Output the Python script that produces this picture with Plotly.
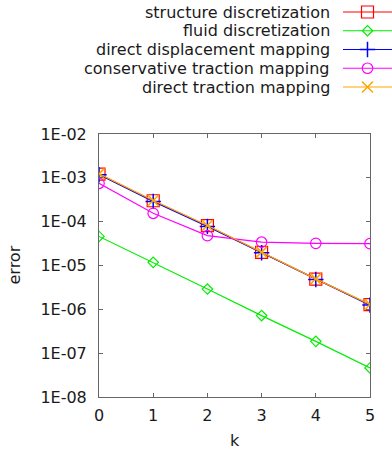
import plotly.graph_objects as go

# ---- data ----
k = [0, 1, 2, 3, 4, 5]
series_names = [
    "structure discretization",
    "fluid discretization",
    "direct displacement mapping",
    "conservative traction mapping",
    "direct traction mapping",
]
structure = [1.22e-3, 3.0e-4, 8.1e-5, 2.0e-5, 4.9e-6, 1.28e-6]
fluid = [4.6e-5, 1.18e-5, 2.9e-6, 7.2e-7, 1.86e-7, 4.6e-8]
direct_disp = [1.18e-3, 2.9e-4, 7.8e-5, 1.95e-5, 4.8e-6, 1.25e-6]
conservative = [7.5e-4, 1.55e-4, 4.8e-5, 3.4e-5, 3.2e-5, 3.15e-5]
direct_trac = [1.23e-3, 3.05e-4, 8.2e-5, 2.02e-5, 4.95e-6, 1.29e-6]
ytick_vals = [1e-8, 1e-7, 1e-6, 1e-5, 1e-4, 1e-3, 1e-2]
ytick_text = ["1E-08", "1E-07", "1E-06", "1E-05", "1E-04", "1E-03", "1E-02"]
xtick_vals = [0, 1, 2, 3, 4, 5]
x_title = "k"
y_title = "error"

# ---- styles ----
values = [structure, fluid, direct_disp, conservative, direct_trac]
colors = ["#ff0000", "#00ee00", "#0000ff", "#ff00ff", "#ffa500"]
symbols = ["square-open", "diamond-open", "cross-thin-open", "circle-open", "x-thin-open"]
msizes = [12, 8, 11, 10.5, 11]
mlw = [1.2, 1.2, 1.5, 1.2, 1.5]
LW = 1.2

FONT = "DejaVu Sans"
TXT = "#1a1a1a"
AX = "#666666"

W, H = 392, 454
left_px, right_px, top_px, bottom_px = 99, 370, 134, 397
L, R, T, B = left_px, 0, 0, H - bottom_px
plot_w = W - L - R
plot_h = H - T - B

fig = go.Figure()

for name, vals, c, s, ms, mw in zip(series_names, values, colors, symbols, msizes, mlw):
    fig.add_trace(go.Scatter(
        x=k, y=vals, mode="lines+markers", name=name,
        line=dict(color=c, width=LW),
        marker=dict(symbol=s, size=ms, color=c, line=dict(color=c, width=mw)),
        showlegend=False, xaxis="x", yaxis="y",
    ))

# manual legend (text on left, sample on right) in its own small axes
for i, (name, c, s, ms, mw) in enumerate(zip(series_names, colors, symbols, msizes, mlw)):
    fig.add_trace(go.Scatter(
        x=[0, 1], y=[i, i], mode="lines", line=dict(color=c, width=LW),
        showlegend=False, hoverinfo="skip", xaxis="x2", yaxis="y2",
    ))
    fig.add_trace(go.Scatter(
        x=[0.5], y=[i], mode="markers",
        marker=dict(symbol=s, size=ms, color=c, line=dict(color=c, width=mw)),
        showlegend=False, hoverinfo="skip", xaxis="x2", yaxis="y2",
    ))
    fig.add_annotation(
        x=0, y=i, xref="x2", yref="y2", text=name, showarrow=False,
        xanchor="right", yanchor="middle", xshift=-11,
        font=dict(family=FONT, size=16, color=TXT),
    )

# axis titles
fig.add_annotation(
    x=(right_px - L) / 2 / plot_w, y=-(441 - bottom_px) / plot_h,
    xref="paper", yref="paper", text=x_title, showarrow=False,
    xanchor="center", yanchor="middle",
    font=dict(family=FONT, size=16, color=TXT),
)
fig.add_annotation(
    x=-(L - 14) / plot_w, y=(bottom_px - (top_px + bottom_px) / 2) / plot_h,
    xref="paper", yref="paper", text=y_title, showarrow=False, textangle=-90,
    xanchor="center", yanchor="middle",
    font=dict(family=FONT, size=16, color=TXT),
)

leg_x0 = 343
row_gap = 18.75
leg_top = 12 - row_gap / 2
leg_bot = leg_top + row_gap * len(series_names)

axis_common = dict(
    showline=True, linecolor=AX, linewidth=1, mirror="ticks",
    ticks="inside", tickcolor=AX, ticklen=4, showgrid=False, zeroline=False,
    tickfont=dict(family=FONT, size=16, color=TXT), automargin=False,
)

fig.update_layout(
    width=W, height=H,
    margin=dict(l=L, r=R, t=T, b=B, pad=0, autoexpand=False),
    plot_bgcolor="white", paper_bgcolor="white",
    xaxis=dict(
        domain=[0, (right_px - L) / plot_w], range=[0, 5],
        tickvals=xtick_vals, ticklabelstandoff=4,
        anchor="y",
        **axis_common,
    ),
    yaxis=dict(
        domain=[0, (bottom_px - top_px) / plot_h], type="log", range=[-8, -2],
        tickvals=ytick_vals, ticktext=ytick_text, ticklabelstandoff=8,
        anchor="x",
        **axis_common,
    ),
    xaxis2=dict(
        domain=[(leg_x0 - L) / plot_w, 1], range=[0, 1], visible=False,
        anchor="y2", fixedrange=True,
    ),
    yaxis2=dict(
        domain=[1 - leg_bot / plot_h, 1 - leg_top / plot_h],
        range=[len(series_names) - 0.5, -0.5], visible=False,
        anchor="x2", fixedrange=True,
    ),
)

fig.write_html(
    "out.html",
    config={"displayModeBar": False},
    post_script="document.body.style.margin='0';document.body.style.padding='0';",
)
